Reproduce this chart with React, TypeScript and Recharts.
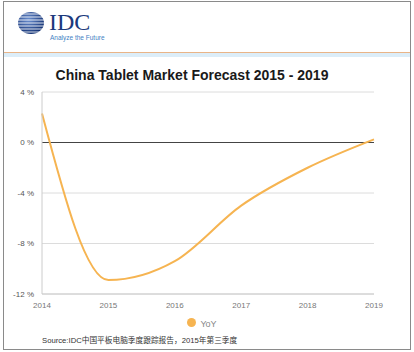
import { LineChart, Line, XAxis, YAxis, CartesianGrid, Legend, ReferenceLine } from "recharts";

const YEARS = [2014, 2015, 2016, 2017, 2018, 2019];
const YOY = [2.3, -10.9, -9.4, -5.0, -2.0, 0.25];
const Y_TICKS = [-12, -8, -4, 0, 4];

const data = YEARS.map((year, i) => ({ year, yoy: YOY[i] }));

const FONT = "'Liberation Sans', Arial, sans-serif";
const ORANGE = "#f6b451";

function Logo() {
  const stripes = [14, 17, 20, 23, 26, 29, 32];
  return (
    <svg width={120} height={48} style={{ position: "absolute", left: 0, top: 0 }}>
      <defs>
        <radialGradient id="g" cx="40%" cy="35%" r="70%">
          <stop offset="0%" stopColor="#6b8fd0" />
          <stop offset="100%" stopColor="#0e2c6e" />
        </radialGradient>
      </defs>
      <ellipse cx={31} cy={23} rx={13} ry={11} fill="url(#g)" />
      {stripes.map((y) => (
        <line key={y} x1={14} x2={46} y1={y} y2={y} stroke="#ffffff" strokeWidth={1} opacity={0.85} />
      ))}
      <text x={49} y={30} fontFamily="'Liberation Serif', 'Times New Roman', serif" fontSize={24} fill="#1b3a7c">
        IDC
      </text>
      <text x={50} y={40} fontFamily={FONT} fontSize={6.5} fill="#3f7fc4">
        Analyze the Future
      </text>
    </svg>
  );
}

export default function App() {
  return (
    <div
      style={{
        position: "absolute",
        left: 0,
        top: 0,
        width: 414,
        height: 352,
        background: "#ffffff",
        fontFamily: FONT,
        overflow: "hidden",
      }}
    >
      {/* cadre */}
      <div
        style={{
          position: "absolute",
          left: 3,
          top: 1,
          width: 406,
          height: 347,
          border: "1px solid #8a8a8a",
        }}
      />
      <Logo />
      <div style={{ position: "absolute", left: 4, top: 52, width: 406, height: 1, background: "#e9b487" }} />
      <div style={{ position: "absolute", left: 4, top: 53, width: 406, height: 4, background: "#dcedf8" }} />

      <div
        style={{
          position: "absolute",
          left: 0,
          top: 67,
          width: 384,
          textAlign: "center",
          fontSize: 14,
          fontWeight: "bold",
          color: "#1a1a1a",
        }}
      >
        China Tablet Market Forecast 2015 - 2019
      </div>

      <div style={{ position: "absolute", left: 0, top: 0 }}>
        <LineChart
          width={414}
          height={352}
          data={data}
          margin={{ top: 92, right: 40, left: 2, bottom: 38 }}
        >
          <CartesianGrid vertical={false} stroke="#dcdcdc" />
          <XAxis
            dataKey="year"
            type="number"
            domain={[2014, 2019]}
            ticks={YEARS}
            tickLine={false}
            axisLine={{ stroke: "#cccccc" }}
            tick={{ fontSize: 8, fill: "#777777", fontFamily: FONT }}
            height={20}
          />
          <YAxis
            domain={[-12, 4]}
            ticks={Y_TICKS}
            tickFormatter={(v) => `${v} %`}
            tickLine={false}
            axisLine={{ stroke: "#cccccc" }}
            tick={{ fontSize: 8, fill: "#555555", fontFamily: FONT }}
            width={40}
          />
          <ReferenceLine y={0} stroke="#444444" strokeWidth={1} />
          <Legend
            verticalAlign="middle"
            align="center"
            iconType="circle"
            iconSize={9}
            formatter={(v) => <span style={{ color: "#888888", fontSize: 9, fontFamily: FONT }}>{v}</span>}
            wrapperStyle={{ top: 313, left: 0, width: 414 }}
          />
          <Line
            type="monotone"
            dataKey="yoy"
            name="YoY"
            stroke={ORANGE}
            strokeWidth={2}
            dot={false}
            isAnimationActive={false}
          />
        </LineChart>
      </div>

      <div
        style={{
          position: "absolute",
          left: 42,
          top: 334,
          fontSize: 7.7,
          color: "#333333",
          whiteSpace: "nowrap",
        }}
      >
        <span style={{ fontFamily: FONT }}>Source:IDC</span>
        <span style={{ fontFamily: "'Noto Sans CJK SC', sans-serif" }}>中国平板电脑季度跟踪报告，</span>
        <span style={{ fontFamily: FONT }}>2015</span>
        <span style={{ fontFamily: "'Noto Sans CJK SC', sans-serif" }}>年第三季度</span>
      </div>
    </div>
  );
}
